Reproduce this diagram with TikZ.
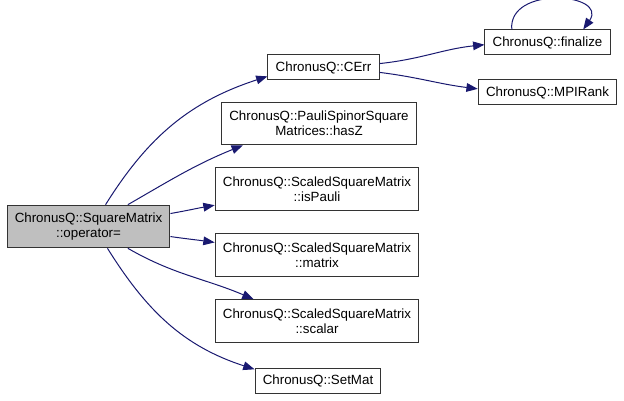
\documentclass[tikz,border=0pt]{standalone}
\usepackage{fontspec}
\setmainfont{Liberation Sans}
\usetikzlibrary{arrows.meta, positioning}

\definecolor{callblue}{RGB}{25,25,112}
\definecolor{rootgray}{RGB}{191,191,191}

\begin{document}
\begin{tikzpicture}[
    x=0.75pt, y=0.75pt,
    every edge/.style={draw=callblue, line width=0.75pt, -{Triangle[length=8.5pt, width=6.5pt]}},
    func/.style={rectangle, draw=black!80, line width=0.75pt, align=center,
      font=\fontsize{10}{11.5}\selectfont, inner xsep=5.8pt, inner ysep=2pt, minimum height=18.75pt},
    twoline/.style={func, minimum height=32pt},
    rootfunc/.style={twoline, fill=rootgray}
  ]

  \useasboundingbox (0,0) rectangle (624,400);

  \node[rootfunc] (root) at (88.5,173.5) {ChronusQ::SquareMatrix\\::operator=};

  \node[func] (cerr) at (323.5,332.5) {ChronusQ::CErr};
  \node[func] (finalize) at (547.5,357.5) {ChronusQ::finalize};
  \node[func] (mpirank) at (547.5,307.5) {ChronusQ::MPIRank};

  \node[twoline] (hasz) at (319,276.5) {ChronusQ::PauliSpinorSquare\\Matrices::hasZ};
  \node[twoline] (ispauli) at (317,211) {ChronusQ::ScaledSquareMatrix\\::isPauli};
  \node[twoline] (matrix) at (317,145) {ChronusQ::ScaledSquareMatrix\\::matrix};
  \node[twoline] (scalar) at (317,79) {ChronusQ::ScaledSquareMatrix\\::scalar};
  \node[func] (setmat) at (318,19.5) {ChronusQ::SetMat};

  \path
    (root.52) edge[out=58, in=198] (cerr.189)
    (root.29) edge[out=30, in=202] (hasz.196)
    (root.9) edge[out=10, in=190] (ispauli.189)
    (root.-7) edge[out=-8, in=172] (matrix.173)
    (root.-29) edge[out=-30, in=157] (scalar.161)
    (root.-49) edge[out=-58, in=162] (setmat.170)

    (cerr.4) edge[out=6, in=186] (finalize.182)
    (cerr.-5) edge[out=-7, in=173] (mpirank.177)
    (finalize.160) edge[out=95, in=55, looseness=1.6] (finalize.20)
  ;
\end{tikzpicture}
\end{document}
